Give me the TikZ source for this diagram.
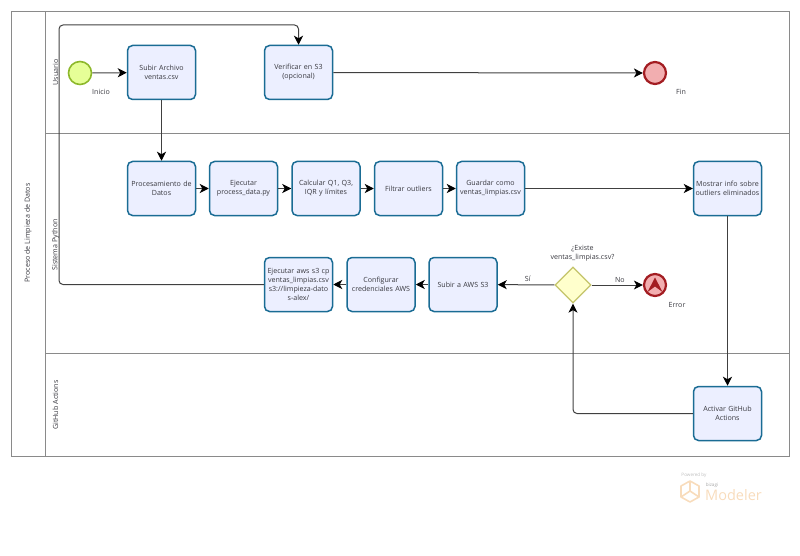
\documentclass[tikz,border=0pt]{standalone}
\usepackage{fontspec}
\setmainfont{Open Sans}
\usepackage[]{xcolor}
\usetikzlibrary{arrows.meta}
\usetikzlibrary{shapes.geometric}
\definecolor{taskline}{HTML}{1A6C94}
\definecolor{taskfill}{HTML}{ECEFFF}
\definecolor{laneline}{HTML}{8A8A8A}
\definecolor{textgray}{HTML}{38383F}
\definecolor{logocol}{HTML}{F8DCBC}
\definecolor{startline}{HTML}{8DB82B}
\definecolor{startfill}{HTML}{E6FF97}
\definecolor{endline}{HTML}{A31D22}
\definecolor{endfill}{HTML}{F2AEB0}
\definecolor{gateline}{HTML}{C4C46A}
\definecolor{gatefill}{HTML}{FFFFCC}
\tikzset{flow/.style = {draw=black!75, line width=1, -{Stealth[length=9,width=9,inset=2.5,color=black]}, rounded corners=4}}
\tikzset{lane/.style = {draw=laneline, line width=1}}
\tikzset{label/.style = {font=\fontsize{7.1}{9.2}\selectfont, text=textgray, align=center}}
\tikzset{task/.style = {label, draw=taskline, fill=taskfill, line width=1.5, rounded corners=5, minimum width=68, minimum height=54, text width=65, inner sep=0}}
\tikzset{startev/.style = {circle, draw=startline, fill=startfill, line width=1.6, minimum size=23, inner sep=0}}
\tikzset{endev/.style = {circle, draw=endline, fill=endfill, line width=2.2, minimum size=22, inner sep=0}}
\begin{document}
\begin{tikzpicture}[x=1pt,y=-1pt]
        \useasboundingbox (0,0) rectangle (800,556);
        % pool and lanes
        \draw [lane] (11.5,11.5) rectangle (789,456);
        \draw [lane] (45.5,11.5)--(45.5,456);
        \draw [lane] (45.5,133.5)--(789,133.5);
        \draw [lane] (45.5,353)--(789,353);
        \node [label, rotate=90] (pool) at (28,233) {Proceso de Limpieza de Datos};
        \node [label, rotate=90] (usuario) at (55.5,72.5) {Usuario};
        \node [label, rotate=90] (sistema) at (55.5,245) {Sistema Python};
        \node [label, rotate=90] (github) at (55.5,405) {GitHub Actions};
        % events
        \node [startev] (inicio) at (80,73) {};
        \node [label] (inicioL) at (101,92) {Inicio};
        \node [endev] (fin) at (655,73) {};
        \node [label] (finL) at (681,92) {Fin};
        \node [endev] (error) at (655,285) {};
        \fill [endline] (647.5,292)--(655,277.5)--(662.5,292)--(655,286.5)--cycle;
        \node [label] (errorL) at (677,305) {Error};
        % tasks
        \node [task] (subir) at (161.5,72.5) {Subir Archivo\\ventas.csv};
        \node [task] (verificar) at (298.5,72.5) {Verificar en S3\\(opcional)};
        \node [task] (proc) at (161.5,188.5) {Procesamiento de\\Datos};
        \node [task] (ejecutar) at (243.5,188.5) {Ejecutar\\process\_data.py};
        \node [task] (calcular) at (326,188.5) {Calcular Q1, Q3,\\IQR y límites};
        \node [task] (filtrar) at (408.5,188.5) {Filtrar outliers};
        \node [task] (guardar) at (490.5,188.5) {Guardar como\\ventas\_limpias.csv};
        \node [task] (mostrar) at (727.5,188.5) {Mostrar info sobre\\outliers eliminados};
        \node [task] (aws) at (298.5,284.5) {Ejecutar aws s3 cp\\ventas\_limpias.csv\\s3://limpieza-dato\\s-alex/};
        \node [task] (config) at (381,284.5) {Configurar\\credenciales AWS};
        \node [task] (s3) at (463,284.5) {Subir a AWS S3};
        \node [task] (activar) at (727.5,413.5) {Activar GitHub\\Actions};
        % gateway
        \node [diamond, draw=gateline, fill=gatefill, line width=1.3, minimum size=36, inner sep=0] (gate) at (573,285) {};
        \node [label] (gateL) at (582.5,253) {¿Existe\\ventas\_limpias.csv?};
        % flows
        \draw [flow] (inicio)--(subir);
        \draw [flow] (subir)--(proc);
        \draw [flow] (proc)--(ejecutar);
        \draw [flow] (ejecutar)--(calcular);
        \draw [flow] (calcular)--(filtrar);
        \draw [flow] (filtrar)--(guardar);
        \draw [flow] (guardar)--(mostrar);
        \draw [flow] (mostrar)--(activar);
        \draw [flow] (activar.west)-|(gate.south);
        \draw [flow] (gate)--node [label, above=-1, pos=0.47] (siL) {Sí} (s3);
        \draw [flow] (gate)--node [label, above=-1, pos=0.55] (noL) {No} (error);
        \draw [flow] (s3)--(config);
        \draw [flow] (config)--(aws);
        \draw [flow] (aws.west)--(59,284.5)--(59,25)-|(verificar.north);
        \draw [flow] (verificar)--(fin);
        % logo
        \draw [logocol, line width=1.6, line join=round] (690,481)--(699,486)--(699,497)--(690,502)--(681,497)--(681,486)--cycle;
        \draw [logocol, line width=1.6, line join=round] (690,481)--(690,491)--(681,497) (690,491)--(699,497);
        \node [font=\fontsize{4.6}{5}\selectfont, text=black!25, inner sep=0] (powered) at (694,475.5) {Powered by};
        \node [font=\fontsize{4.6}{5}\selectfont, text=black!35, inner sep=0] (bizagi) at (712,485) {bizagi};
        \node [font=\fontsize{14.5}{16}\selectfont, text=logocol, inner sep=0] (modeler) at (733.5,495) {Modeler};
    \end{tikzpicture}
\end{document}
